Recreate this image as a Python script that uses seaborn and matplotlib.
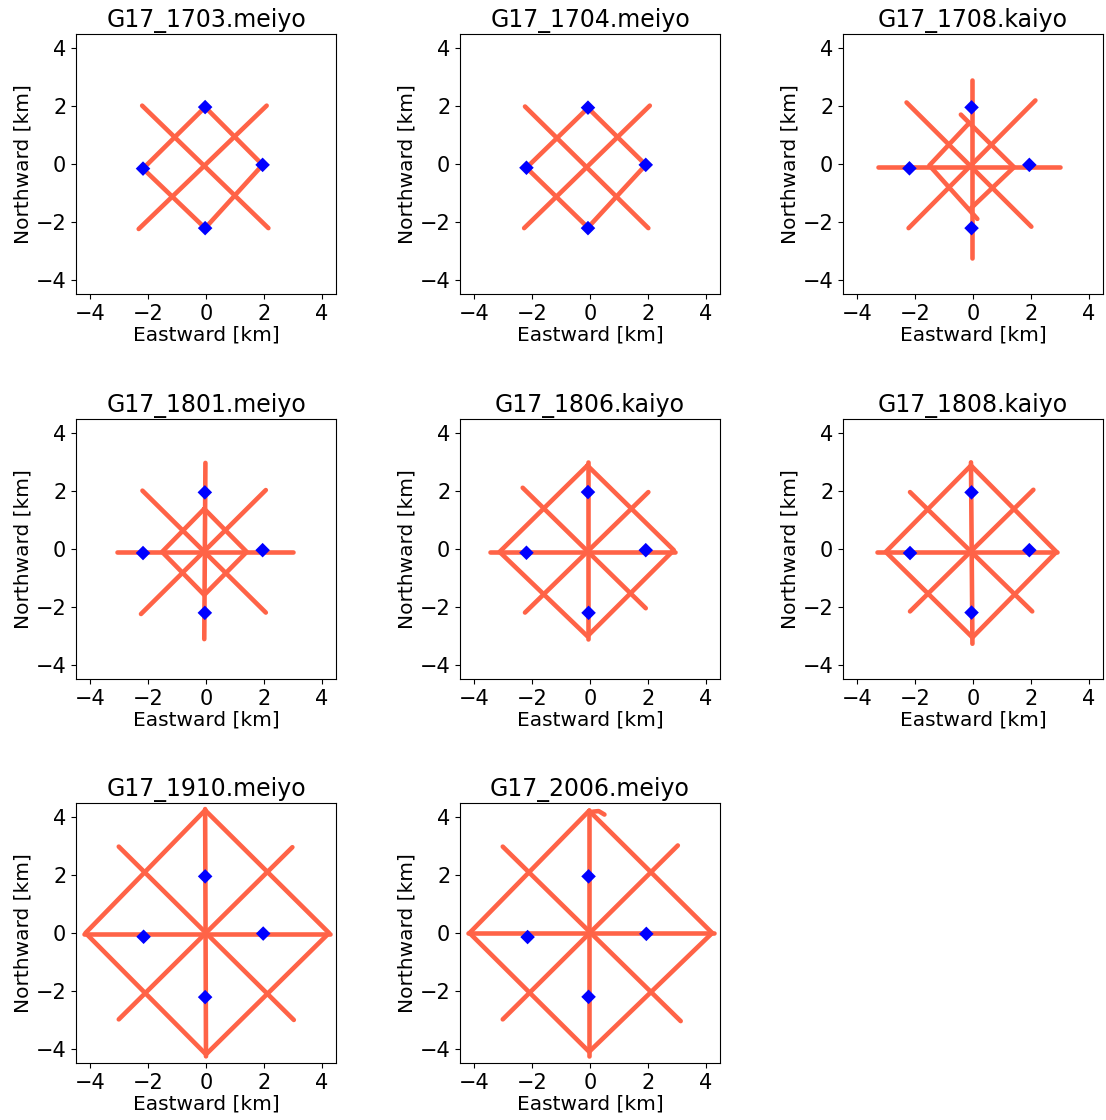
import matplotlib
matplotlib.use("Agg")
import matplotlib.pyplot as plt
import seaborn as sns
import pandas as pd

# ---------------- data ----------------
titles = ["G17_1703.meiyo", "G17_1704.meiyo", "G17_1708.kaiyo",
          "G17_1801.meiyo", "G17_1806.kaiyo", "G17_1808.kaiyo",
          "G17_1910.meiyo", "G17_2006.meiyo"]

# transponder positions (east, north) [km]
stn_1703 = [(-2.18, -0.16), (-0.03, 1.97), (1.96, -0.03), (-0.03, -2.22)]
stn_1704 = [(-2.20, -0.13), (-0.07, 1.95), (1.93, -0.03), (-0.07, -2.22)]
stn_1708 = [(-2.20, -0.15), (-0.05, 1.96), (1.95, -0.03), (-0.05, -2.22)]
stn_1801 = [(-2.18, -0.14), (-0.04, 1.96), (1.96, -0.04), (-0.04, -2.21)]
stn_1806 = [(-2.20, -0.13), (-0.07, 1.97), (1.93, -0.04), (-0.05, -2.21)]
stn_1808 = [(-2.18, -0.14), (-0.05, 1.96), (1.95, -0.04), (-0.05, -2.20)]
stn_1910 = [(-2.16, -0.13), (-0.03, 1.96), (1.98, -0.02), (-0.03, -2.22)]
stn_2006 = [(-2.16, -0.14), (-0.05, 1.96), (1.95, -0.03), (-0.05, -2.21)]

# survey tracks: list of polylines of (east, north) [km]
trk_1703 = [
    [(-2.21, 2.02), (2.16, -2.22)],
    [(-2.33, -2.25), (2.10, 2.02)],
    [(-2.18, -0.16), (-0.03, 1.97), (1.96, -0.03), (-0.03, -2.22), (-2.18, -0.16)],
]
trk_1704 = [
    [(-2.25, 1.99), (2.02, -2.22)],
    [(-2.28, -2.22), (2.07, 2.02)],
    [(-2.20, -0.13), (-0.07, 1.94), (1.93, -0.03), (-0.07, -2.20), (-2.20, -0.13)],
]
trk_1708 = [
    [(-0.05, 2.91), (-0.05, -3.25)],
    [(-3.29, -0.10), (3.02, -0.10)],
    [(-2.30, 2.13), (2.02, -2.17)],
    [(-2.23, -2.22), (2.16, 2.20)],
    [(-0.42, 1.71), (1.42, -0.11), (-0.10, -1.56)],
    [(-0.13, 1.42), (-1.51, -0.05), (0.15, -1.90)],
]
trk_1801 = [
    [(-0.02, 2.98), (-0.06, -3.12)],
    [(-3.08, -0.10), (3.02, -0.10)],
    [(-2.20, 2.02), (2.07, -2.20)],
    [(-2.25, -2.25), (2.07, 2.04)],
    [(-0.06, 1.39), (1.41, -0.10), (-0.06, -1.59), (-1.52, -0.10), (-0.06, 1.39)],
]
trk_1806 = [
    [(-0.07, 3.00), (-0.07, -3.12)],
    [(-3.45, -0.10), (2.95, -0.10)],
    [(-2.33, 2.12), (1.93, -2.05)],
    [(-2.25, -2.20), (2.02, 1.97)],
    [(-0.09, 2.89), (2.90, -0.04), (-0.09, -3.02), (-3.13, -0.10), (-0.09, 2.89)],
]
trk_1808 = [
    [(-0.07, 3.00), (-0.02, -3.28)],
    [(-3.32, -0.10), (2.90, -0.10)],
    [(-2.18, 1.97), (2.05, -2.16)],
    [(-2.18, -2.16), (2.09, 2.05)],
    [(-0.07, 2.89), (2.89, -0.10), (-0.02, -3.06), (-3.02, -0.10), (-0.07, 2.89)],
]
trk_1910 = [
    [(-0.03, 4.29), (0.00, -4.27)],
    [(-4.23, -0.02), (4.28, -0.02)],
    [(-3.02, 2.99), (3.04, -3.01)],
    [(-3.02, -2.99), (2.99, 2.97)],
    [(-0.03, 4.25), (4.26, 0.00), (0.00, -4.20), (-4.17, 0.00), (-0.03, 4.25)],
]
trk_2006 = [
    [(-0.03, 4.25), (-0.03, -4.27)],
    [(-4.23, 0.00), (4.29, 0.00)],
    [(-3.02, 2.99), (3.14, -3.05)],
    [(-3.02, -2.99), (3.04, 3.03)],
    [(-0.03, 4.23), (4.23, 0.00), (-0.03, -4.11), (-4.17, 0.00), (-0.03, 4.23)],
    [(0.10, 4.20), (0.30, 4.22), (0.50, 4.10)],
]

stations = [stn_1703, stn_1704, stn_1708, stn_1801, stn_1806, stn_1808, stn_1910, stn_2006]
tracks = [trk_1703, trk_1704, trk_1708, trk_1801, trk_1806, trk_1808, trk_1910, trk_2006]
ticks = [-4, -2, 0, 2, 4]

# ---------------- figure ----------------
W, H = 1106, 1120
fig = plt.figure(figsize=(W / 100, H / 100), dpi=100)
col_left = [76, 460, 843]
row_top = [33, 418, 802]
aw, ah = 260, 262

for i, (title, stn, trk) in enumerate(zip(titles, stations, tracks)):
    r, c = divmod(i, 3)
    ax = fig.add_axes([col_left[c] / W, 1 - (row_top[r] + ah) / H, aw / W, ah / H])
    rows = []
    for k, line in enumerate(trk):
        for e, n in line:
            rows.append({"e": e, "n": n, "seg": k})
    df = pd.DataFrame(rows)
    sns.lineplot(data=df, x="e", y="n", units="seg", estimator=None, sort=False,
                 color="tomato", linewidth=3.3, solid_capstyle="round", ax=ax)
    sdf = pd.DataFrame(stn, columns=["e", "n"])
    sns.scatterplot(data=sdf, x="e", y="n", marker="D", color="blue", s=55,
                    edgecolor="none", zorder=5, ax=ax)
    ax.set_xlim(-4.5, 4.5)
    ax.set_ylim(-4.5, 4.5)
    ax.set_aspect("equal")
    ax.set_xticks(ticks)
    ax.set_yticks(ticks)
    ax.tick_params(labelsize=15)
    ax.set_xlabel("Eastward [km]", fontsize=14.5, labelpad=1)
    ax.set_ylabel("Northward [km]", fontsize=14.5, labelpad=2)
    ax.set_title(title, fontsize=17, pad=5)

fig.savefig("out.png", dpi=100)
